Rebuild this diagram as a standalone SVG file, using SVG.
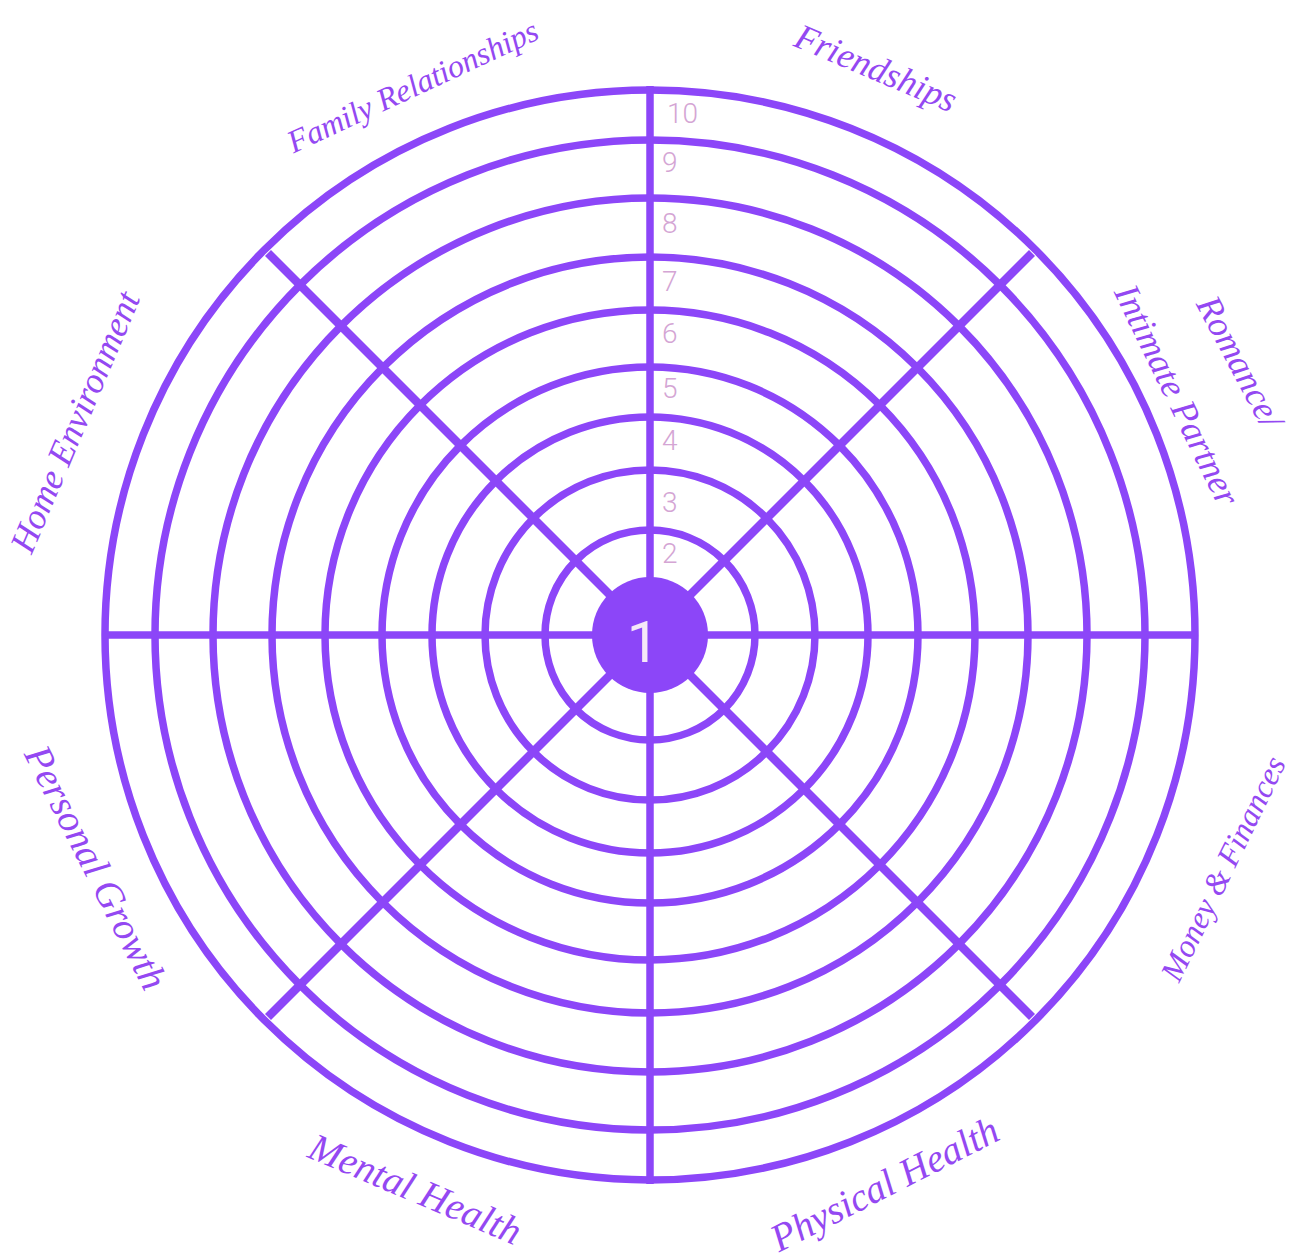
<svg xmlns="http://www.w3.org/2000/svg" width="1296" height="1260" viewBox="0 0 1296 1260">
<style>
.ring{fill:none;stroke:#8c46f8;stroke-width:7.5}
.spoke{stroke:#8c46f8;stroke-width:7.5;stroke-linecap:butt}
.diag{stroke:#8c46f8;stroke-width:8.5;stroke-linecap:butt}
.num{font-family:Roboto,"Liberation Sans",sans-serif;font-weight:300;font-size:28px;fill:#d4a5d4}
.lbl{font-family:"Liberation Serif","DejaVu Serif",serif;font-style:italic;font-size:36px;fill:#9448f2;text-anchor:middle}
.sm{font-size:32px}
.lg{font-size:39px}
</style>
<rect width="1296" height="1260" fill="#ffffff"/>
<g id="rings">
<circle class="ring" cx="650" cy="635" r="545"/>
<circle class="ring" cx="650" cy="635" r="495"/>
<circle class="ring" cx="650" cy="635" r="437"/>
<circle class="ring" cx="650" cy="635" r="378"/>
<circle class="ring" cx="650" cy="635" r="325"/>
<circle class="ring" cx="650" cy="635" r="268"/>
<circle class="ring" cx="650" cy="635" r="218"/>
<circle class="ring" cx="650" cy="635" r="165"/>
<circle class="ring" cx="650" cy="635" r="105"/>
</g>
<g id="connectors">
<line class="spoke" x1="650" y1="86" x2="650" y2="1184"/>
<line class="spoke" x1="102" y1="635" x2="1198" y2="635"/>
<line class="diag" x1="268" y1="253" x2="1032" y2="1017"/>
<line class="diag" x1="1032" y1="253" x2="268" y2="1017"/>
</g>
<g id="center">
<circle cx="650" cy="635" r="58" fill="#8c46f8"/>
<text x="643" y="662" font-family="Roboto,'Liberation Sans',sans-serif" font-weight="400" font-size="58" fill="#f5e8f8" text-anchor="middle">1</text>
</g>
<g id="scale">
<text class="num" x="667" y="123">10</text>
<text class="num" x="662" y="172">9</text>
<text class="num" x="662" y="233">8</text>
<text class="num" x="662" y="291">7</text>
<text class="num" x="662" y="343">6</text>
<text class="num" x="662" y="398">5</text>
<text class="num" x="662" y="450">4</text>
<text class="num" x="662" y="512">3</text>
<text class="num" x="662" y="563">2</text>
</g>
<g id="label-family" transform="translate(412,85) rotate(-25)">
<text class="lbl sm" x="0" y="12">Family Relationships</text>
</g>
<g id="label-friendships" transform="translate(876,68) rotate(23)">
<text class="lbl" x="0" y="12">Friendships</text>
</g>
<g id="label-romance">
<text class="lbl" transform="translate(1240,362) rotate(62)" x="0" y="12">Romance/</text>
<text class="lbl" transform="translate(1177,395) rotate(64)" x="0" y="12">Intimate Partner</text>
</g>
<g id="label-money" transform="translate(1222,868) rotate(-64)">
<text class="lbl sm" x="0" y="12">Money &amp; Finances</text>
</g>
<g id="label-physical" transform="translate(885,1185) rotate(-27)">
<text class="lbl lg" x="0" y="12">Physical Health</text>
</g>
<g id="label-mental" transform="translate(415,1190) rotate(23)">
<text class="lbl lg" x="0" y="12">Mental Health</text>
</g>
<g id="label-personal" transform="translate(95,868) rotate(63)">
<text class="lbl lg" x="0" y="12">Personal Growth</text>
</g>
<g id="label-home" transform="translate(75,422) rotate(-67)">
<text class="lbl" x="0" y="12">Home Environment</text>
</g>
</svg>
